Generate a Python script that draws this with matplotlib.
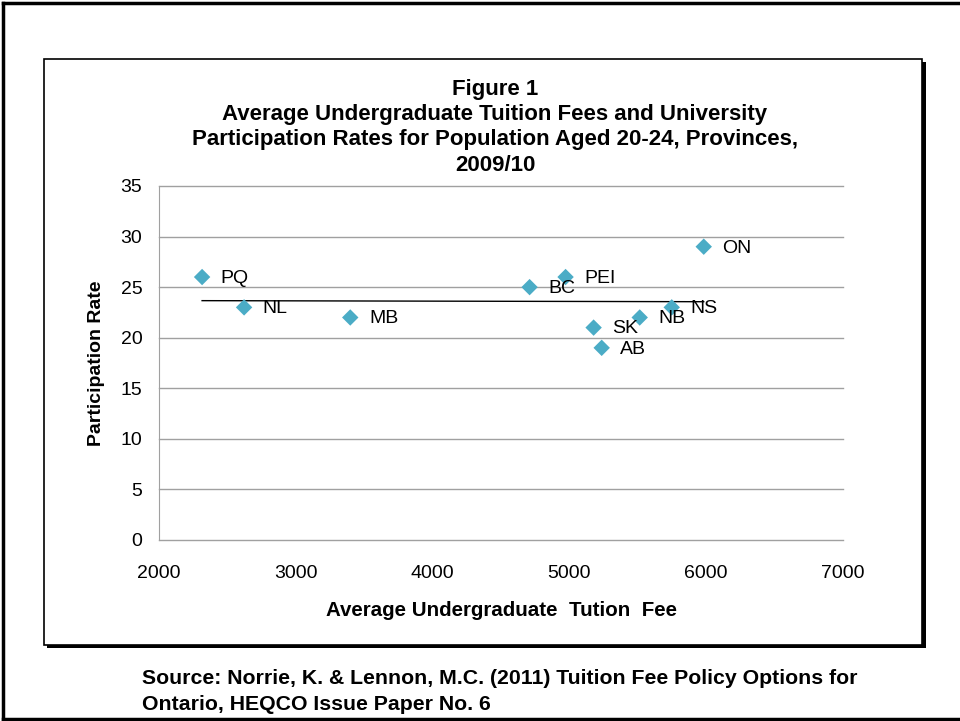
import numpy as np
import matplotlib
matplotlib.use("Agg")
import matplotlib.pyplot as plt
from matplotlib.patches import Rectangle
from matplotlib.lines import Line2D

# Provinces, average undergraduate tuition fee ($) and participation rate (%), 2009/10
provinces = ["PQ", "NL", "MB", "BC", "PEI", "SK", "AB", "NB", "NS", "ON"]
tuition_fee = [2315, 2622, 3398, 4709, 4972, 5177, 5236, 5514, 5748, 5982]
participation = [26, 23, 22, 25, 26, 21, 19, 22, 23, 29]

x_ticks = [2000, 3000, 4000, 5000, 6000, 7000]
y_ticks = [0, 5, 10, 15, 20, 25, 30, 35]

title_lines = [
    "Figure 1",
    "Average Undergraduate Tuition Fees and University",
    "Participation Rates for Population Aged 20-24, Provinces,",
    "2009/10",
]
source_lines = [
    "Source: Norrie, K. & Lennon, M.C. (2011) Tuition Fee Policy Options for",
    "Ontario, HEQCO Issue Paper No. 6",
]

plt.rcParams["font.family"] = ["Liberation Sans", "DejaVu Sans"]

W, H = 960, 721
fig = plt.figure(figsize=(W / 100, H / 100), dpi=100)


def fx(px):
    return px / W


def fy(py):
    return 1 - py / H


# outer page border (left, top, bottom)
for xs, ys in [((3, 3), (3, 719)), ((3, 960), (3, 3)), ((3, 960), (719, 719))]:
    fig.add_artist(Line2D([fx(v) for v in xs], [fy(v) for v in ys],
                          transform=fig.transFigure, color="black", lw=2.5))

# chart frame with drop shadow
fig.add_artist(Rectangle((fx(47), fy(648)), fx(926) - fx(47), fy(62) - fy(648),
                         transform=fig.transFigure, facecolor="black",
                         edgecolor="none", zorder=-2))
fig.add_artist(Rectangle((fx(44), fy(645)), fx(922) - fx(44), fy(59) - fy(645),
                         transform=fig.transFigure, facecolor="white",
                         edgecolor="black", lw=1.2, zorder=-1))

ax = fig.add_axes([fx(159), fy(540), fx(843) - fx(159), fy(186) - fy(540)])
ax.set_xlim(2000, 7000)
ax.set_ylim(0, 35)
ax.set_xticks(x_ticks)
ax.set_yticks(y_ticks)
ax.tick_params(length=0, labelsize=14)
ax.tick_params(axis="y", pad=12)
ax.tick_params(axis="x", pad=18)
ax.grid(axis="y", color="#A0A0A0", lw=1)
for gl in ax.get_ygridlines():
    gl.set_clip_on(False)
ax.set_axisbelow(True)
for side in ["top", "right", "bottom"]:
    ax.spines[side].set_visible(False)
ax.spines["left"].set_color("#A0A0A0")
ax.patch.set_alpha(0)

# linear trend line across the observed fee range
coef = np.polyfit(tuition_fee, participation, 1)
xr = np.array([min(tuition_fee), max(tuition_fee)])
ax.plot(xr, np.polyval(coef, xr), color="black", lw=1, zorder=2)

ax.scatter(tuition_fee, participation, marker="D", s=70, color="#4BACC6",
           edgecolors="none", zorder=3)
for name, xv, yv in zip(provinces, tuition_fee, participation):
    ax.annotate(name, (xv, yv), xytext=(13.5, -1), textcoords="offset points",
                ha="left", va="center", fontsize=14, zorder=4)

ax.set_ylabel("Participation Rate", fontsize=14, fontweight="bold", labelpad=11)
ax.set_xlabel("Average Undergraduate  Tution  Fee", fontsize=14.8,
              fontweight="bold", labelpad=14)

for i, line in enumerate(title_lines):
    fig.text(fx(495), fy(89 + i * 25.5), line, ha="center", va="center",
             fontsize=16, fontweight="bold")

for i, line in enumerate(source_lines):
    fig.text(fx(142), fy(678.5 + i * 26), line, ha="left", va="center",
             fontsize=15.3, fontweight="bold")

fig.savefig("out.png", dpi=100)
